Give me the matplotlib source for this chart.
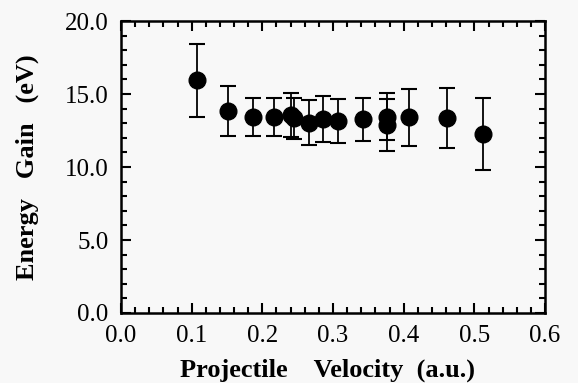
import matplotlib
matplotlib.use("Agg")
import matplotlib.pyplot as plt
from matplotlib.ticker import MultipleLocator, FormatStrFormatter

velocity = [0.107, 0.152, 0.187, 0.216, 0.240, 0.245, 0.266, 0.286, 0.307, 0.343, 0.376, 0.376, 0.407, 0.461, 0.512]
energy_gain = [15.96, 13.84, 13.45, 13.45, 13.56, 13.35, 13.03, 13.29, 13.17, 13.26, 13.45, 12.88, 13.40, 13.33, 12.26]
error = [2.5, 1.7, 1.3, 1.3, 1.5, 1.4, 1.55, 1.55, 1.5, 1.45, 1.6, 1.8, 1.95, 2.05, 2.45]

plt.rcParams['font.family'] = ['Liberation Serif', 'DejaVu Serif']
bg = '#f8f8f8'
fig = plt.figure(figsize=(5.78, 3.83), dpi=100, facecolor=bg)
ax = fig.add_axes([0.2093, 0.1828, 0.7337, 0.7622], facecolor=bg)

ax.errorbar(velocity, energy_gain, yerr=error, fmt='o', color='black',
            markersize=12, capsize=6, elinewidth=1.3, capthick=1.5)

ax.set_xlim(0.0, 0.6)
ax.set_ylim(0.0, 20.0)
ax.xaxis.set_major_locator(MultipleLocator(0.1))
ax.xaxis.set_minor_locator(MultipleLocator(0.02))
ax.yaxis.set_major_locator(MultipleLocator(5.0))
ax.yaxis.set_minor_locator(MultipleLocator(1.0))
ax.xaxis.set_major_formatter(FormatStrFormatter('%.1f'))
ax.yaxis.set_major_formatter(FormatStrFormatter('%.1f'))
ax.tick_params(which='both', direction='in', top=True, right=True, width=1.5, labelsize=18)
ax.tick_params(axis='x', pad=9)
ax.tick_params(axis='y', pad=9)
ax.tick_params(which='major', length=7)
ax.tick_params(which='minor', length=4)
for s in ax.spines.values():
    s.set_linewidth(1.8)

ax.set_xlabel('Projectile    Velocity  (a.u.)', fontsize=19, fontweight='bold')
ax.set_ylabel('Energy   Gain   (eV)', fontsize=19, fontweight='bold')
ax.xaxis.set_label_coords(0.488, -0.155)
ax.yaxis.set_label_coords(-0.193, 0.5)

fig.savefig('out.png', dpi=100, facecolor=bg)
